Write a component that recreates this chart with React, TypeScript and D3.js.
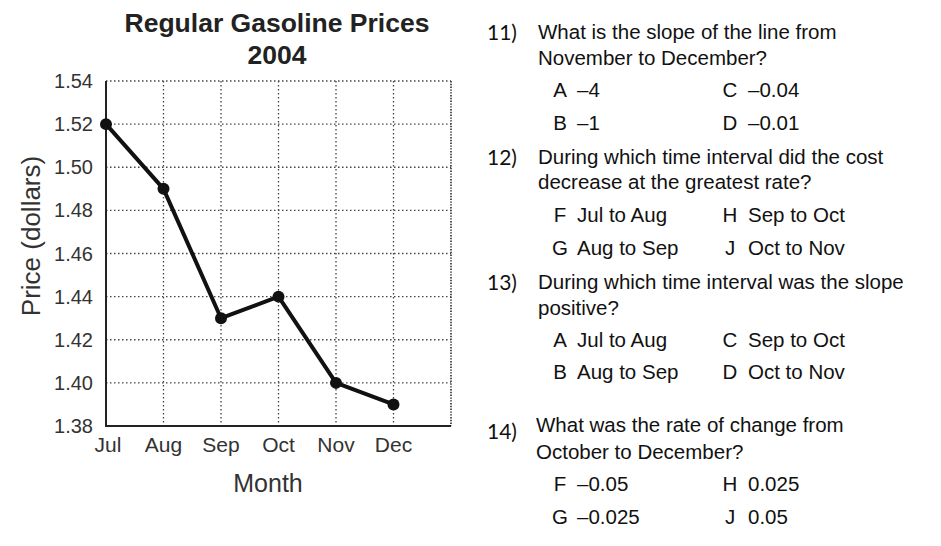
import React from 'react';
import { scaleLinear, line } from 'd3';

// chart data
const months = ['Jul', 'Aug', 'Sep', 'Oct', 'Nov', 'Dec'];
const prices = [1.52, 1.49, 1.43, 1.44, 1.4, 1.39];
const priceTicks = [1.38, 1.4, 1.42, 1.44, 1.46, 1.48, 1.5, 1.52, 1.54];
const titleLines = ['Regular Gasoline Prices', '2004'];

// the questions beside it
const questionNumbers = ['11)', '12)', '13)', '14)'];
const questionTexts = [
  ['What is the slope of the line from', 'November to December?'],
  ['During which time interval did the cost', 'decrease at the greatest rate?'],
  ['During which time interval was the slope', 'positive?'],
  ['What was the rate of change from', 'October to December?'],
];
const answerLetters = [
  ['A', 'C', 'B', 'D'],
  ['F', 'H', 'G', 'J'],
  ['A', 'C', 'B', 'D'],
  ['F', 'H', 'G', 'J'],
];
const answerValues = [
  ['\u20134', '\u20130.04', '\u20131', '\u20130.01'],
  ['Jul to Aug', 'Sep to Oct', 'Aug to Sep', 'Oct to Nov'],
  ['Jul to Aug', 'Sep to Oct', 'Aug to Sep', 'Oct to Nov'],
  ['\u20130.05', '0.025', '\u20130.025', '0.05'],
];

// layout of each question block (y of text lines, y of answer rows)
const blocks = [
  { numY: 33, textY: [32, 58], rows: [90, 123], textX: 538 },
  { numY: 158, textY: [157, 182], rows: [215, 248], textX: 538 },
  { numY: 283, textY: [282, 308], rows: [340, 372], textX: 538 },
  { numY: 432, textY: [425, 452], rows: [484, 517], textX: 536 },
];

const W = 941;
const H = 546;
const plot = { left: 106, right: 451, top: 81, bottom: 426 };
const ink = '#222';
const grid = '#444';
const sans = 'Liberation Sans, Arial, sans-serif';

export default function App() {
  const x = scaleLinear().domain([0, months.length]).range([plot.left, plot.right]);
  const y = scaleLinear().domain([1.38, 1.54]).range([plot.bottom, plot.top]);
  const path = line<number>()
    .x((_, i) => x(i))
    .y(d => y(d))(prices);

  return (
    <svg
      width={W}
      height={H}
      style={{ position: 'absolute', left: 0, top: 0, background: '#fff' }}
      fontFamily={sans}
    >
      {/* title */}
      {titleLines.map((t, i) => (
        <text key={t} x={277} y={23 + i * 32} dy="0.35em" textAnchor="middle"
          fontSize={26.5} fontWeight="bold" fill={ink}>{t}</text>
      ))}

      {/* horizontal grid */}
      {priceTicks.slice(1).map(t => (
        <line key={t} x1={plot.left} x2={plot.right} y1={y(t)} y2={y(t)}
          stroke={grid} strokeWidth={1.3} strokeDasharray="1.5 2.5" />
      ))}
      {/* vertical grid */}
      {months.slice(1).map((m, i) => (
        <line key={m} x1={x(i + 1)} x2={x(i + 1)} y1={plot.top} y2={plot.bottom}
          stroke={grid} strokeWidth={1.3} strokeDasharray="1.5 2.5" />
      ))}
      <line x1={plot.right} x2={plot.right} y1={plot.top} y2={plot.bottom}
        stroke={grid} strokeWidth={1.8} strokeDasharray="1.4 1.4" />

      {/* axes */}
      <line x1={plot.left} x2={plot.left} y1={plot.top} y2={plot.bottom + 1} stroke={ink} strokeWidth={2} />
      <line x1={plot.left} x2={plot.right} y1={plot.bottom} y2={plot.bottom} stroke={ink} strokeWidth={2} />

      {/* tick labels */}
      {priceTicks.map(t => (
        <text key={t} x={93} y={y(t)} dy="0.35em" textAnchor="end" fontSize={20} fill="#333">
          {t.toFixed(2)}
        </text>
      ))}
      {months.map((m, i) => (
        <text key={m} x={x(i) + (i === 0 ? 2 : 0)} y={445} dy="0.35em" textAnchor="middle" fontSize={21} fill="#333">
          {m}
        </text>
      ))}
      <text x={268} y={483} dy="0.35em" textAnchor="middle" fontSize={25} fill="#333">Month</text>
      <text transform="translate(31,236) rotate(-90)" dy="0.35em" textAnchor="middle" fontSize={26} fill="#333">
        Price (dollars)
      </text>

      {/* series */}
      <path d={path ?? ''} fill="none" stroke="#111" strokeWidth={4} strokeLinejoin="round" />
      {prices.map((p, i) => (
        <circle key={i} cx={x(i)} cy={y(p)} r={6} fill="#111" />
      ))}

      {/* questions */}
      {blocks.map((b, q) => (
        <g key={q} fill="#111">
          <text x={487} y={b.numY} dy="0.35em" fontSize={21} fontFamily="Lato, 'Open Sans', sans-serif">
            {questionNumbers[q]}
          </text>
          {questionTexts[q].map((t, k) => (
            <text key={k} x={b.textX} y={b.textY[k]} dy="0.35em" fontSize={20.5}>{t}</text>
          ))}
          {answerLetters[q].map((l, k) => {
            const col = k % 2;
            const row = Math.floor(k / 2);
            const lx = col === 0 ? 553 : 723;
            const vx = col === 0 ? 577 : 748;
            return (
              <g key={k}>
                <text x={lx + 7} y={b.rows[row]} dy="0.35em" textAnchor="middle" fontSize={20.5}>{l}</text>
                <text x={vx} y={b.rows[row]} dy="0.35em" fontSize={20.5}>{answerValues[q][k]}</text>
              </g>
            );
          })}
        </g>
      ))}
    </svg>
  );
}
